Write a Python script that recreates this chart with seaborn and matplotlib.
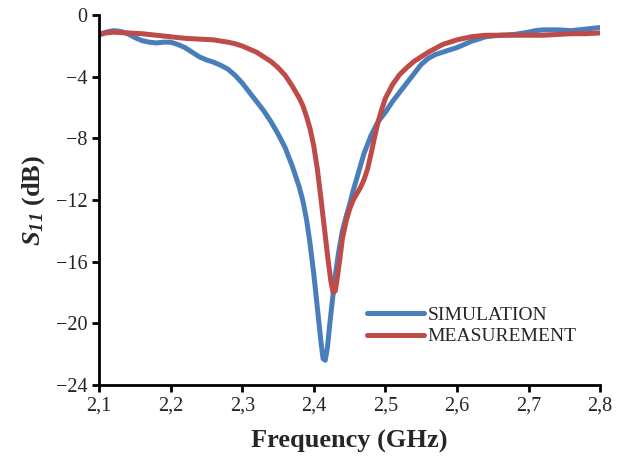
import matplotlib
matplotlib.use("Agg")
import matplotlib.pyplot as plt
import seaborn as sns
import pandas as pd

# simulated S11 (blue)
sim_freq = [2.10, 2.11, 2.12, 2.13, 2.14, 2.15, 2.16, 2.17, 2.18, 2.19, 2.20, 2.21, 2.22,
            2.23, 2.24, 2.25, 2.26, 2.27, 2.28, 2.29, 2.30, 2.31, 2.32, 2.33, 2.34, 2.35,
            2.36, 2.37, 2.38, 2.385, 2.39, 2.395, 2.40, 2.405, 2.41, 2.413, 2.416, 2.419,
            2.422, 2.426, 2.43, 2.435, 2.44, 2.445, 2.45, 2.455, 2.46, 2.465, 2.47, 2.475,
            2.48, 2.49, 2.50, 2.51, 2.52, 2.53, 2.54, 2.55, 2.56, 2.57, 2.58, 2.59, 2.60,
            2.61, 2.62, 2.63, 2.64, 2.65, 2.66, 2.68, 2.70, 2.71, 2.72, 2.74, 2.76, 2.78, 2.80]
sim_s11 = [-1.3, -1.1, -1.0, -1.05, -1.2, -1.45, -1.65, -1.75, -1.8, -1.75, -1.75, -1.9, -2.1,
           -2.4, -2.7, -2.9, -3.05, -3.25, -3.5, -3.9, -4.4, -5.0, -5.6, -6.2, -6.9, -7.7,
           -8.6, -9.8, -11.2, -12.1, -13.3, -14.9, -16.8, -19.0, -21.2, -22.3, -22.4, -21.6,
           -20.2, -18.5, -16.9, -15.3, -14.0, -13.1, -12.3, -11.4, -10.6, -9.8, -9.0, -8.4,
           -7.8, -6.9, -6.3, -5.6, -5.0, -4.4, -3.8, -3.2, -2.8, -2.55, -2.4, -2.25, -2.1,
           -1.9, -1.7, -1.55, -1.4, -1.35, -1.3, -1.25, -1.1, -1.0, -0.95, -0.95, -1.0, -0.9, -0.8]

# measured S11 (red)
meas_freq = [2.10, 2.12, 2.14, 2.16, 2.18, 2.20, 2.22, 2.24, 2.26, 2.28, 2.29, 2.30, 2.31,
             2.32, 2.33, 2.34, 2.35, 2.36, 2.37, 2.38, 2.385, 2.39, 2.395, 2.40, 2.405,
             2.41, 2.415, 2.42, 2.424, 2.427, 2.430, 2.433, 2.437, 2.44, 2.445, 2.45,
             2.455, 2.46, 2.465, 2.47, 2.475, 2.48, 2.485, 2.49, 2.495, 2.50, 2.51, 2.52,
             2.53, 2.54, 2.55, 2.56, 2.57, 2.58, 2.59, 2.60, 2.62, 2.64, 2.66, 2.68, 2.70,
             2.72, 2.74, 2.76, 2.78, 2.80]
meas_s11 = [-1.2, -1.1, -1.15, -1.2, -1.3, -1.4, -1.5, -1.55, -1.6, -1.75, -1.85, -2.0, -2.2,
            -2.4, -2.7, -3.0, -3.4, -3.9, -4.6, -5.4, -5.9, -6.6, -7.4, -8.5, -10.0,
            -11.9, -13.9, -15.9, -17.3, -18.0, -17.9, -17.0, -15.6, -14.5, -13.4, -12.6,
            -12.0, -11.6, -11.2, -10.7, -10.0, -9.0, -7.9, -6.9, -6.1, -5.4, -4.5, -3.85,
            -3.4, -3.0, -2.7, -2.4, -2.15, -1.9, -1.75, -1.6, -1.4, -1.3, -1.3, -1.3, -1.3,
            -1.3, -1.25, -1.2, -1.2, -1.15]

x_ticks = [2.1, 2.2, 2.3, 2.4, 2.5, 2.6, 2.7, 2.8]
x_labels = ["2,1", "2,2", "2,3", "2,4", "2,5", "2,6", "2,7", "2,8"]
y_ticks = [0, -4, -8, -12, -16, -20, -24]

sns.set_style("ticks")
plt.rcParams["font.family"] = ["Liberation Serif", "DejaVu Serif"]
plt.rcParams["mathtext.fontset"] = "custom"
plt.rcParams["mathtext.bfit"] = "Liberation Serif:italic:bold"
plt.rcParams["mathtext.it"] = "Liberation Serif:italic:bold"
plt.rcParams["mathtext.rm"] = "Liberation Serif:bold"

sim = pd.DataFrame({"f": sim_freq, "s": sim_s11})
meas = pd.DataFrame({"f": meas_freq, "s": meas_s11})

fig = plt.figure(figsize=(6.31, 4.61), dpi=100)
ax = fig.add_axes([0.157, 0.165, 0.794, 0.802])

sns.lineplot(data=sim, x="f", y="s", ax=ax, color="#4a7ebb", lw=3.6, label="SIMULATION",
             solid_joinstyle="round", solid_capstyle="round")
sns.lineplot(data=meas, x="f", y="s", ax=ax, color="#be4b48", lw=3.6, label="MEASUREMENT",
             solid_joinstyle="round", solid_capstyle="round")

ax.set_xlim(2.1, 2.8)
ax.set_ylim(-24, 0)
ax.set_xticks(x_ticks)
ax.set_xticklabels(x_labels)
ax.set_yticks(y_ticks)
ax.tick_params(labelsize=14.5, length=5, width=2, direction="out", color="black")

for side in ["top", "right"]:
    ax.spines[side].set_visible(False)
for side in ["left", "bottom"]:
    ax.spines[side].set_linewidth(2)
    ax.spines[side].set_color("black")

ax.set_xlabel("Frequency (GHz)", fontsize=19, fontweight="bold", labelpad=10)
ax.set_ylabel(r"$\mathbfit{S}_{\mathbfit{11}}$ (dB)", fontsize=19, fontweight="bold", labelpad=6)

ax.legend(loc="center left", bbox_to_anchor=(0.52, 0.16), frameon=False, fontsize=14,
          handlelength=2.9, handletextpad=0.2, labelspacing=0.2, borderaxespad=0)

fig.savefig("out.png", dpi=100)
